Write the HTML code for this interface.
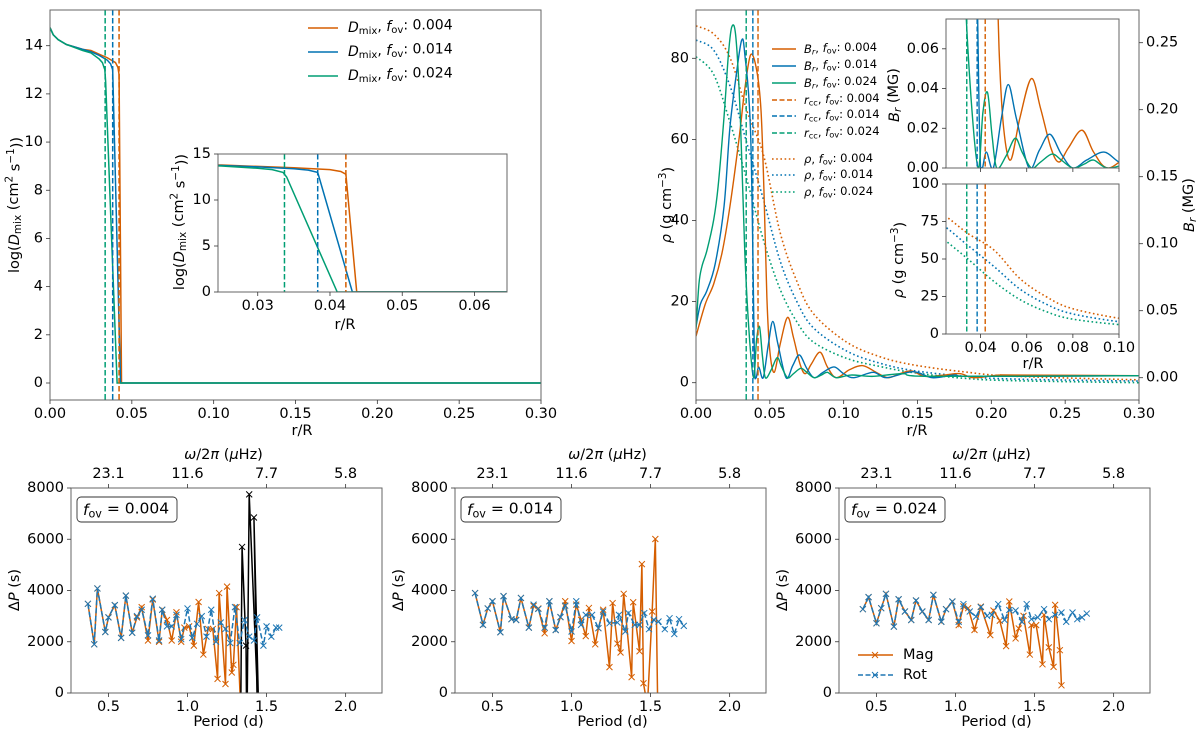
<!DOCTYPE html>
<html><head><meta charset="utf-8"><style>
html,body{margin:0;padding:0;background:#fff;}
svg{display:block;font-family:"DejaVu Sans","Liberation Sans",sans-serif;}
</style></head><body>
<svg id="fig" width="1200" height="739" viewBox="0 0 1200 739" xmlns="http://www.w3.org/2000/svg"></svg>
<script>
// ---------- data: top-left (log D_mix) ----------
const dO_r=[0,0.002,0.005,0.01,0.02,0.025,0.03,0.035,0.04,0.0415,0.0422,0.0437,0.3];
const dO_v=[14.75,14.45,14.25,14.05,13.85,13.8,13.65,13.5,13.3,13.1,12.8,0,0];
const dB_r=[0,0.002,0.005,0.01,0.02,0.025,0.03,0.035,0.037,0.0383,0.0431,0.3];
const dB_v=[14.75,14.45,14.25,14.05,13.85,13.75,13.6,13.4,13.25,13.0,0,0];
const dG_r=[0,0.002,0.005,0.01,0.02,0.025,0.03,0.032,0.0335,0.034,0.041,0.3];
const dG_v=[14.75,14.45,14.25,14.05,13.8,13.7,13.45,13.3,13.0,12.5,0,0];
const rccLeft=[0.0422,0.0383,0.0337];
const fovLabels=['0.004','0.014','0.024'];
// ---------- data: top-right (B_r, rho) ----------
const brO_r=[0,0.0063,0.012,0.0176,0.023,0.029,0.033,0.037,0.041,0.044,0.046,0.048,0.050,0.053,0.057,0.062,0.066,0.0705,0.074,0.078,0.084,0.089,0.095,0.104,0.113,0.122,0.130,0.138,0.146,0.155,0.168,0.179,0.188,0.205,0.216,0.3];
const brO_v=[0.031,0.055,0.070,0.093,0.128,0.177,0.215,0.241,0.230,0.2,0.14,0.06,0.02,0.004,0.025,0.045,0.03,0.01,0.003,0.01,0.019,0.008,0,0.006,0.009,0.004,0,0.003,0.005,0.001,0.002,0.003,0,0.002,0.002,0.0015];
const brB_r=[0,0.003,0.0074,0.013,0.019,0.023,0.028,0.031,0.033,0.037,0.0395,0.0405,0.0425,0.0455,0.049,0.052,0.0555,0.061,0.0655,0.070,0.075,0.080,0.086,0.0935,0.1,0.107,0.12,0.129,0.147,0.16,0.175,0.19,0.3];
const brB_v=[0.038,0.055,0.065,0.085,0.128,0.187,0.232,0.252,0.242,0.182,0.02,0,0.008,0,0.025,0.042,0.025,0,0.009,0.017,0.007,0,0.004,0.008,0.003,0,0.004,0,0.0045,0,0.002,0.001,0.0015];
const brG_r=[0,0.002,0.004,0.0074,0.012,0.015,0.019,0.022,0.0243,0.027,0.030,0.033,0.036,0.039,0.041,0.043,0.045,0.047,0.051,0.055,0.058,0.062,0.066,0.071,0.075,0.080,0.085,0.089,0.095,0.105,0.12,0.14,0.16,0.3];
const brG_v=[0.036,0.07,0.083,0.095,0.118,0.143,0.195,0.242,0.262,0.254,0.195,0.095,0.033,0,0.028,0.038,0.016,0,0.006,0.015,0.008,0,0.003,0.007,0.004,0,0.002,0.004,0,0.002,0.001,0.003,0.001,0.0015];
const rho_r=[0,0.012,0.0232,0.0345,0.0458,0.057,0.0683,0.0796,0.102,0.1246,0.147,0.181,0.215,0.3];
const rhoO=[88,86,80,67,56,37,25,17,10,6.4,4.4,2.7,1.6,0.7];
const rhoB=[84.5,82,73,59,45,30,20,13.5,7.8,4.8,3,1.6,0.9,0.4];
const rhoG=[80.4,76,64,50,35,23,15,10,6,4,2.5,1.1,0.5,0];
const rccRight=[0.042,0.0385,0.034];
// ---------- data: bottom (period spacing) ----------
const rot1=[[0.37,3480],[0.41,1900],[0.43,4080],[0.48,2380],[0.50,2950],[0.54,3430],[0.58,2150],[0.61,3800],[0.65,2350],[0.68,3000],[0.71,3250],[0.75,2250],[0.78,3680],[0.82,2050],[0.84,3250],[0.87,2600],[0.90,2600],[0.93,3050],[0.96,2100],[1.00,3300],[1.03,2150],[1.06,2700],[1.09,3000],[1.12,2200],[1.15,3250],[1.18,2000],[1.21,2750],[1.24,2500],[1.27,1950],[1.30,3350],[1.33,1950],[1.36,2850],[1.39,2200],[1.42,2050],[1.44,2950],[1.48,1850],[1.50,2600],[1.53,2200],[1.56,2550],[1.58,2550]];
const mag1=[[0.37,3480],[0.41,1900],[0.43,4080],[0.48,2380],[0.50,2950],[0.54,3430],[0.58,2150],[0.61,3800],[0.65,2350],[0.68,2950],[0.71,3350],[0.75,2050],[0.78,3650],[0.82,2000],[0.84,3250],[0.87,2850],[0.90,2050],[0.93,3150],[0.96,2000],[0.98,2550],[1.01,2600],[1.04,1850],[1.07,3550],[1.10,1500],[1.13,2500],[1.16,2500],[1.19,550],[1.20,3900],[1.24,350],[1.25,4150],[1.28,800],[1.29,1100],[1.31,3350],[1.345,-2000]];
const black1=[[1.335,-2000],[1.345,5700],[1.37,1850],[1.375,-2000],[1.39,7750],[1.455,-2000],[1.42,6850],[1.445,-2000]];
const rot2=[[0.39,3900],[0.44,2660],[0.47,3300],[0.50,3580],[0.55,2370],[0.57,3780],[0.62,2880],[0.65,2850],[0.68,3710],[0.73,2550],[0.76,3450],[0.79,3280],[0.83,2550],[0.86,3580],[0.90,2460],[0.93,2960],[0.96,3410],[1.00,2400],[1.03,3580],[1.06,2660],[1.09,3050],[1.13,3050],[1.17,2530],[1.20,3180],[1.24,2720],[1.29,2750],[1.30,3050],[1.34,2400],[1.36,3120],[1.40,2660],[1.43,2660],[1.46,3120],[1.49,2490],[1.52,2860],[1.55,2790],[1.59,2490],[1.62,2920],[1.65,2300],[1.68,2880],[1.71,2620]];
const mag2=[[0.39,3900],[0.44,2660],[0.47,3300],[0.50,3580],[0.55,2370],[0.57,3780],[0.62,2880],[0.65,2850],[0.68,3710],[0.73,2550],[0.76,3400],[0.79,3300],[0.83,2330],[0.86,3580],[0.90,2460],[0.93,2960],[0.96,3580],[1.00,2030],[1.03,3450],[1.06,2860],[1.09,2220],[1.11,3320],[1.15,1900],[1.17,2530],[1.20,3250],[1.24,1010],[1.26,3510],[1.29,1930],[1.31,1580],[1.33,3870],[1.38,620],[1.39,3540],[1.43,1630],[1.445,5030],[1.455,380],[1.48,-500],[1.51,3180],[1.53,6010],[1.545,-500]];
const rot3=[[0.414,3270],[0.45,3740],[0.50,2720],[0.53,3310],[0.56,3870],[0.61,2590],[0.64,3660],[0.68,3180],[0.72,2850],[0.75,3610],[0.79,3180],[0.83,2850],[0.86,3830],[0.91,2780],[0.94,3270],[0.98,3570],[1.02,2780],[1.05,3470],[1.09,3180],[1.13,2980],[1.16,3350],[1.20,3010],[1.23,3050],[1.27,3470],[1.31,2850],[1.34,3240],[1.38,3220],[1.42,2780],[1.45,3470],[1.48,2880],[1.52,2950],[1.56,3270],[1.59,2880],[1.63,3050],[1.67,3140],[1.70,2780],[1.74,3140],[1.77,2880],[1.80,2950],[1.83,3100]];
const mag3=[[0.414,3270],[0.45,3740],[0.50,2720],[0.53,3310],[0.56,3870],[0.61,2590],[0.64,3660],[0.68,3180],[0.72,2850],[0.75,3610],[0.79,3180],[0.83,2850],[0.86,3830],[0.91,2780],[0.94,3270],[0.98,3570],[1.02,2650],[1.05,3380],[1.08,3310],[1.12,2460],[1.16,3370],[1.22,2260],[1.24,3220],[1.28,2820],[1.32,1830],[1.34,3570],[1.38,2130],[1.40,2520],[1.43,3010],[1.47,1500],[1.48,2650],[1.51,2650],[1.55,1120],[1.56,3050],[1.59,1780],[1.62,1020],[1.63,3440],[1.66,1670],[1.67,300]];
const periodTicks=[0.5,1.0,1.5,2.0];
const freqLabels=['23.1','11.6','7.7','5.8'];
const dpTicks=[0,2000,4000,6000,8000];

// ---------- helpers ----------
const NS='http://www.w3.org/2000/svg';
const svg=document.getElementById('fig');
const OR='#d55e00', BL='#0072b2', GR='#009e73', BL2='#1f77b4';
const FS=14.5;
let clipId=0;
function lin(d0,d1,p0,p1){return v=>p0+(v-d0)*(p1-p0)/(d1-d0);}
function add(parent,tag,attrs,name,inter){
  const e=document.createElementNS(NS,tag);
  for(const k in attrs)e.setAttribute(k,attrs[k]);
  
  
  parent.appendChild(e);return e;
}
function txt(parent,x,y,html,size,anchor,name,rot){
  const t=add(parent,'text',{x:x,y:y,'font-size':size,'text-anchor':anchor||'middle','dominant-baseline':'central',fill:'#000'},name);
  if(rot)t.setAttribute('transform','rotate('+rot+' '+x+' '+y+')');
  t.innerHTML=html;return t;
}
function group(name){return add(svg,'g',{},name);}
function clipFor(g,x,y,w,h){
  const id='c'+(clipId++);
  const cp=add(g,'clipPath',{id:id},'clip-region');
  add(cp,'rect',{x:x,y:y,width:w,height:h},'clip-rect');
  return add(g,'g',{'clip-path':'url(#'+id+')'},'plot-area');
}
function pathD(xs,ys,sx,sy){return xs.map((v,i)=>(i?'L':'M')+sx(v).toFixed(2)+' '+sy(ys[i]).toFixed(2)).join(' ');}
function smoothD(xs,ys,sx,sy){
  const P=xs.map((v,i)=>[sx(v),sy(ys[i])]);
  let d='M'+P[0][0].toFixed(2)+' '+P[0][1].toFixed(2);
  for(let i=0;i<P.length-1;i++){
    const p0=P[i-1]||P[i],p1=P[i],p2=P[i+1],p3=P[i+2]||P[i+1];
    const c1=[p1[0]+(p2[0]-p0[0])/6,p1[1]+(p2[1]-p0[1])/6];
    const c2=[p2[0]-(p3[0]-p1[0])/6,p2[1]-(p3[1]-p1[1])/6];
    d+='C'+c1[0].toFixed(2)+' '+c1[1].toFixed(2)+' '+c2[0].toFixed(2)+' '+c2[1].toFixed(2)+' '+p2[0].toFixed(2)+' '+p2[1].toFixed(2);
  }
  return d;
}
function frame(g,x0,y0,x1,y1){
  add(g,'rect',{x:x0,y:y0,width:x1-x0,height:y1-y0,fill:'none',stroke:'#666','stroke-width':1},'axes-frame');
}
function xTicks(g,vals,labels,sx,yb,name,up){
  vals.forEach((v,i)=>{
    const x=sx(v);
    add(g,'line',{x1:x,x2:x,y1:yb,y2:up?yb-4:yb+4,stroke:'#333','stroke-width':0.8},name+'-tick');
    txt(g,x,up?yb-14:yb+14,labels[i],FS,'middle',name+'-label');
  });
}
function yTicks(g,vals,labels,sy,xl,name,right){
  vals.forEach((v,i)=>{
    const y=sy(v);
    add(g,'line',{x1:xl,x2:right?xl+4:xl-4,y1:y,y2:y,stroke:'#333','stroke-width':0.8},name+'-tick');
    txt(g,right?xl+7:xl-7,y,labels[i],FS,right?'start':'end',name+'-label');
  });
}
const SUB=(s)=>'<tspan font-size="0.72em" dy="0.3em">'+s+'</tspan><tspan dy="-0.3em">\u200b</tspan>';
const FOV='<tspan font-style="italic">f</tspan>'+SUB('ov');
const DLAB='log(<tspan font-style="italic">D</tspan>'+SUB('mix')+' (cm<tspan font-size="0.72em" dy="-0.4em">2</tspan><tspan dy="0.4em"> s</tspan><tspan font-size="0.72em" dy="-0.4em">\u22121</tspan><tspan dy="0.4em">))</tspan>';
const RLAB='<tspan font-style="italic">ρ</tspan> (g cm<tspan font-size="0.72em" dy="-0.4em">\u22123</tspan><tspan dy="0.4em">)</tspan>';
const BLAB='<tspan font-style="italic">B</tspan>'+SUB('<tspan font-style="italic">r</tspan>')+' (MG)';

// ---------- panel A: top-left ----------
(function(){
  const g=group('panel-dmix');
  const sx=lin(0,0.3,50,541), sy=lin(0,14,383,45.7);
  const pa=clipFor(g,50,10,491,390);
  [[dO_r,dO_v,OR,'dmix-line-004'],[dB_r,dB_v,BL,'dmix-line-014'],[dG_r,dG_v,GR,'dmix-line-024']].forEach(s=>{
    add(pa,'path',{d:pathD(s[0],s[1],sx,sy),fill:'none',stroke:s[2],'stroke-width':1.5},s[3]);
  });
  [OR,BL,GR].forEach((c,i)=>{
    add(pa,'line',{x1:sx(rccLeft[i]),x2:sx(rccLeft[i]),y1:10,y2:400,stroke:c,'stroke-width':1.5,'stroke-dasharray':'5.5,2.5'},'rcc-line-'+fovLabels[i]);
  });
  frame(g,50,10,541,400);
  xTicks(g,[0,0.05,0.1,0.15,0.2,0.25,0.3],['0.00','0.05','0.10','0.15','0.20','0.25','0.30'],sx,400,'x-axis');
  yTicks(g,[0,2,4,6,8,10,12,14],['0','2','4','6','8','10','12','14'],sy,50,'y-axis');
  txt(g,302,431,'r/R',FS,'middle','x-axis-title');
  txt(g,15,205,DLAB,FS,'middle','y-axis-title',-90);
  [OR,BL,GR].forEach((c,i)=>{
    const y=28+i*24;
    add(g,'line',{x1:308,x2:338,y1:y,y2:y,stroke:c,'stroke-width':1.5},'legend-swatch-'+fovLabels[i]);
    txt(g,348,y,'<tspan font-style="italic">D</tspan>'+SUB('mix')+', '+FOV+': '+fovLabels[i],14,'start','legend-entry-'+fovLabels[i]);
  });
  const ix=lin(0.0245,0.0645,218,507), iy=lin(0,15,292,154);
  add(g,'rect',{x:218,y:154,width:289,height:138,fill:'#fff'},'inset-bg');
  const ip=clipFor(g,218,154,289,138);
  [[dO_r,dO_v,OR,'inset-dmix-004'],[dB_r,dB_v,BL,'inset-dmix-014'],[dG_r,dG_v,GR,'inset-dmix-024']].forEach(s=>{
    add(ip,'path',{d:pathD(s[0],s[1],ix,iy),fill:'none',stroke:s[2],'stroke-width':1.5},s[3]);
  });
  [OR,BL,GR].forEach((c,i)=>{
    add(ip,'line',{x1:ix(rccLeft[i]),x2:ix(rccLeft[i]),y1:154,y2:292,stroke:c,'stroke-width':1.5,'stroke-dasharray':'5.5,2.5'},'inset-rcc-'+fovLabels[i]);
  });
  frame(g,218,154,507,292);
  xTicks(g,[0.03,0.04,0.05,0.06],['0.03','0.04','0.05','0.06'],ix,292,'inset-x');
  yTicks(g,[0,5,10,15],['0','5','10','15'],iy,218,'inset-y');
  txt(g,345,325,'r/R',FS,'middle','inset-x-title');
  txt(g,180,222,DLAB,FS,'middle','inset-y-title',-90);
})();

// ---------- panel B: top-right ----------
(function(){
  const g=group('panel-field-density');
  const X0=696,X1=1139,Y0=10,Y1=400;
  const sx=lin(0,0.3,X0,X1), sRho=lin(0,80,382.7,58.3), sBr=lin(0,0.25,377.7,42.7);
  const pa=clipFor(g,X0,Y0,X1-X0,Y1-Y0);
  [[rhoO,OR,'rho-004'],[rhoB,BL,'rho-014'],[rhoG,GR,'rho-024']].forEach(s=>{
    add(pa,'path',{d:smoothD(rho_r,s[0],sx,sRho),fill:'none',stroke:s[1],'stroke-width':1.6,'stroke-dasharray':'1.6,2.6'},'line-'+s[2]);
  });
  [[brO_r,brO_v,OR,'br-004'],[brB_r,brB_v,BL,'br-014'],[brG_r,brG_v,GR,'br-024']].forEach(s=>{
    add(pa,'path',{d:smoothD(s[0],s[1],sx,sBr),fill:'none',stroke:s[2],'stroke-width':1.4},'line-'+s[3]);
  });
  [OR,BL,GR].forEach((c,i)=>{
    add(pa,'line',{x1:sx(rccRight[i]),x2:sx(rccRight[i]),y1:Y0,y2:Y1,stroke:c,'stroke-width':1.4,'stroke-dasharray':'5.5,2.5'},'rcc-right-'+fovLabels[i]);
  });
  frame(g,X0,Y0,X1,Y1);
  xTicks(g,[0,0.05,0.1,0.15,0.2,0.25,0.3],['0.00','0.05','0.10','0.15','0.20','0.25','0.30'],sx,Y1,'x-axis-right');
  yTicks(g,[0,20,40,60,80],['0','20','40','60','80'],sRho,X0,'rho-axis');
  yTicks(g,[0,0.05,0.1,0.15,0.2,0.25],['0.00','0.05','0.10','0.15','0.20','0.25'],sBr,X1,'br-axis',true);
  txt(g,917,431,'r/R',FS,'middle','x-axis-title-right');
  txt(g,667,205,RLAB,FS,'middle','rho-axis-title',-90);
  txt(g,1190,205,BLAB,FS,'middle','br-axis-title',-90);
  const rows=[49,66,83,100,116,133,159,175,192];
  const lab=['<tspan font-style="italic">B</tspan>'+SUB('<tspan font-style="italic">r</tspan>'),'<tspan font-style="italic">r</tspan>'+SUB('cc'),'<tspan font-style="italic">ρ</tspan>'];
  const dash=['', '5,2.5','1.6,2.6'];
  [0,1,2].forEach(k=>{[OR,BL,GR].forEach((c,i)=>{
    const y=rows[k*3+i];
    const l=add(g,'line',{x1:772,x2:796,y1:y,y2:y,stroke:c,'stroke-width':1.4},'legend-swatch-'+k+'-'+fovLabels[i]);
    if(dash[k])l.setAttribute('stroke-dasharray',dash[k]);
    txt(g,804,y,lab[k]+', '+FOV+': '+fovLabels[i],11.5,'start','legend-entry-'+k+'-'+fovLabels[i]);
  });});
  const ix=lin(0.025,0.1,946,1119), iyB=lin(0,0.075,168,19), iyR=lin(0,100,334,184);
  add(g,'rect',{x:946,y:19,width:173,height:149,fill:'#fff'},'inset-br-bg');
  const p1=clipFor(g,946,19,173,149);
  [[brO_r,brO_v,OR,'inset-br-004'],[brB_r,brB_v,BL,'inset-br-014'],[brG_r,brG_v,GR,'inset-br-024']].forEach(s=>{
    add(p1,'path',{d:smoothD(s[0],s[1],ix,iyB),fill:'none',stroke:s[2],'stroke-width':1.4},s[3]);
  });
  [OR,BL,GR].forEach((c,i)=>{
    add(p1,'line',{x1:ix(rccRight[i]),x2:ix(rccRight[i]),y1:19,y2:168,stroke:c,'stroke-width':1.4,'stroke-dasharray':'5,2.5'},'inset-br-rcc-'+fovLabels[i]);
  });
  frame(g,946,19,1119,168);
  yTicks(g,[0,0.02,0.04,0.06],['0.00','0.02','0.04','0.06'],iyB,946,'inset-br-y');
  [0.04,0.06,0.08,0.1].forEach(v=>add(g,'line',{x1:ix(v),x2:ix(v),y1:168,y2:172,stroke:'#333','stroke-width':0.8},'inset-br-xtick'));
  txt(g,895,95,BLAB,FS,'middle','inset-br-title',-90);
  add(g,'rect',{x:946,y:184,width:173,height:150,fill:'#fff'},'inset-rho-bg');
  const p2=clipFor(g,946,184,173,150);
  [[rhoO,OR,'inset-rho-004'],[rhoB,BL,'inset-rho-014'],[rhoG,GR,'inset-rho-024']].forEach(s=>{
    add(p2,'path',{d:smoothD(rho_r,s[0],ix,iyR),fill:'none',stroke:s[1],'stroke-width':1.6,'stroke-dasharray':'1.6,2.6'},s[2]);
  });
  [OR,BL,GR].forEach((c,i)=>{
    add(p2,'line',{x1:ix(rccRight[i]),x2:ix(rccRight[i]),y1:184,y2:334,stroke:c,'stroke-width':1.4,'stroke-dasharray':'5,2.5'},'inset-rho-rcc-'+fovLabels[i]);
  });
  frame(g,946,184,1119,334);
  yTicks(g,[0,25,50,75,100],['0','25','50','75','100'],iyR,946,'inset-rho-y');
  xTicks(g,[0.04,0.06,0.08,0.1],['0.04','0.06','0.08','0.10'],ix,334,'inset-rho-x');
  txt(g,1033,364,'r/R',FS,'middle','inset-rho-x-title');
  txt(g,899,260,RLAB,FS,'middle','inset-rho-title',-90);
})();

// ---------- bottom panels ----------
function xMarkers(parent,pts,sx,sy,color,name){
  pts.forEach(p=>{
    if(p[1]<0)return;
    const x=sx(p[0]),y=sy(p[1]),s=3;
    add(parent,'path',{d:'M'+(x-s)+' '+(y-s)+'L'+(x+s)+' '+(y+s)+'M'+(x-s)+' '+(y+s)+'L'+(x+s)+' '+(y-s),stroke:color,'stroke-width':1,fill:'none'},name);
  });
}
function bottomPanel(off,label,mag,rot,black,legend){
  const g=group('panel-spacing-'+label);
  const X0=71+off,X1=382+off,Y0=488,Y1=693;
  const sx=lin(0.263,2.23,X0,X1), sy=lin(0,8000,Y1,Y0);
  const pa=clipFor(g,X0,Y0,X1-X0,Y1-Y0);
  add(pa,'path',{d:pathD(mag.map(p=>p[0]),mag.map(p=>p[1]),sx,sy),fill:'none',stroke:OR,'stroke-width':1.5},'mag-line');
  xMarkers(pa,mag,sx,sy,OR,'mag-marker');
  if(black){
    add(pa,'path',{d:pathD(black.map(p=>p[0]),black.map(p=>p[1]),sx,sy),fill:'none',stroke:'#000','stroke-width':1.5},'mag-extra-line');
    xMarkers(pa,black,sx,sy,'#000','mag-extra-marker');
  }
  add(pa,'path',{d:pathD(rot.map(p=>p[0]),rot.map(p=>p[1]),sx,sy),fill:'none',stroke:BL2,'stroke-width':1.5,'stroke-dasharray':'5.5,2.5'},'rot-line');
  xMarkers(pa,rot,sx,sy,BL2,'rot-marker');
  frame(g,X0,Y0,X1,Y1);
  xTicks(g,periodTicks,periodTicks.map(v=>v.toFixed(1)),sx,Y1,'period-axis');
  xTicks(g,periodTicks,freqLabels,sx,Y0,'frequency-axis',true);
  yTicks(g,dpTicks,dpTicks.map(String),sy,X0,'dp-axis');
  txt(g,(X0+X1)/2+2,722,'Period (d)',FS,'middle','period-axis-title');
  txt(g,(X0+X1)/2-3,455,'<tspan font-style="italic">ω</tspan>/2<tspan font-style="italic">π</tspan> (<tspan font-style="italic">μ</tspan>Hz)',FS,'middle','frequency-axis-title');
  txt(g,X0-56,590,'Δ<tspan font-style="italic">P</tspan> (s)',FS,'middle','dp-axis-title',-90);
  add(g,'rect',{x:X0+6,y:497,width:100,height:25,rx:4,fill:'#fff',stroke:'#333','stroke-width':0.9},'fov-box');
  txt(g,X0+12,510,FOV+' = '+label,15.5,'start','fov-label');
  if(legend){
    add(g,'line',{x1:X0+19,x2:X0+54,y1:655,y2:655,stroke:OR,'stroke-width':1.5},'legend-mag-swatch');
    xMarkers(g,[[0,1]],()=>X0+36,()=>655,OR,'legend-mag-marker');
    txt(g,X0+64,655,'Mag',FS,'start','legend-mag');
    add(g,'line',{x1:X0+19,x2:X0+54,y1:675,y2:675,stroke:BL2,'stroke-width':1.5,'stroke-dasharray':'5,2.5'},'legend-rot-swatch');
    xMarkers(g,[[0,1]],()=>X0+36,()=>675,BL2,'legend-rot-marker');
    txt(g,X0+64,675,'Rot',FS,'start','legend-rot');
  }
}
bottomPanel(0,'0.004',mag1,rot1,black1,false);
bottomPanel(384,'0.014',mag2,rot2,null,false);
bottomPanel(768,'0.024',mag3,rot3,null,true);
</script>
</body></html>
